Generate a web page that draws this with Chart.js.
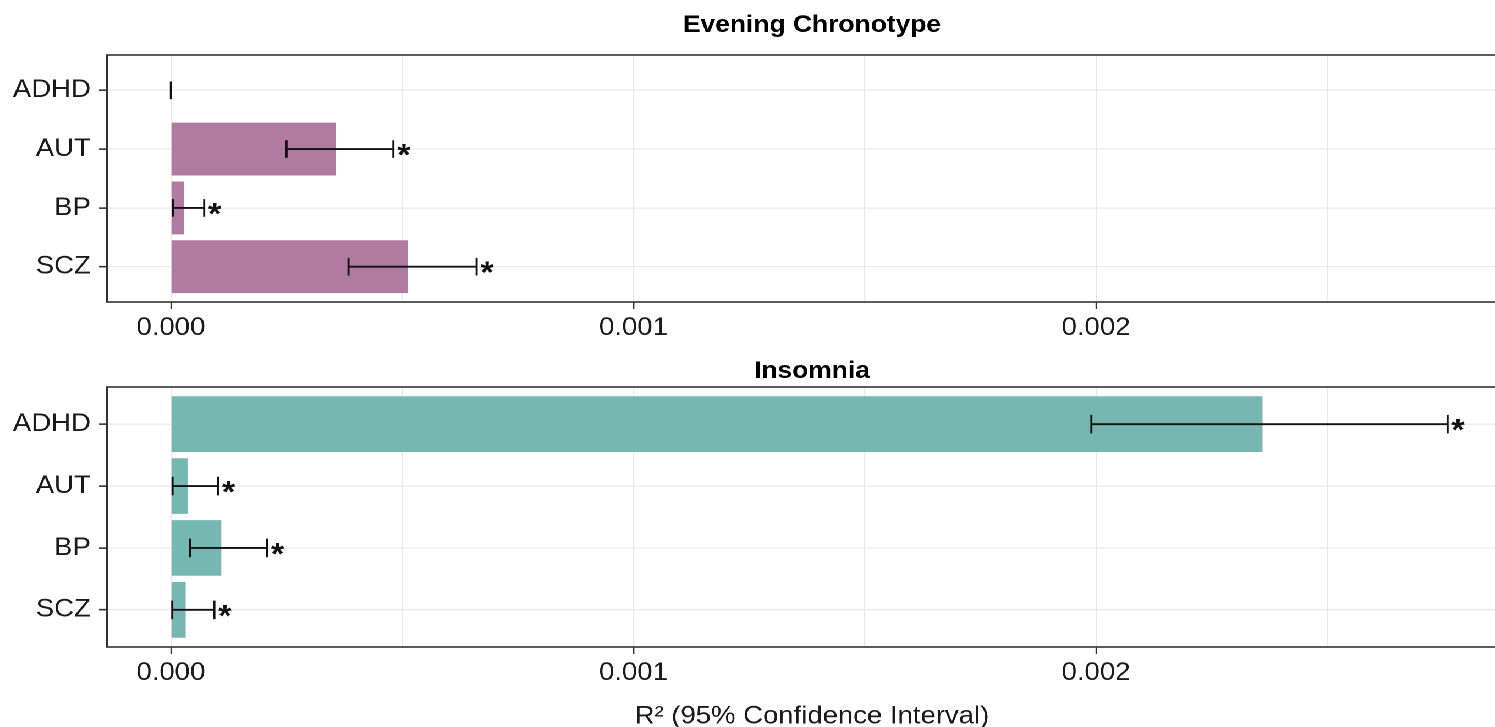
<!DOCTYPE html>
<html>
<head>
<meta charset="utf-8">
<script src="https://cdn.jsdelivr.net/npm/chart.js@4.4.1/dist/chart.umd.min.js"></script>
<style>
    html, body { margin: 0; padding: 0; width: 1495px; height: 727px; overflow: hidden; background: #fff; }
    /* the reference is a bit wider than it is tall, so stretch the drawing horizontally */
    #stage { position: absolute; left: 0; top: 0; width: 1380px; height: 727px; transform: scaleX(1.1); transform-origin: 0 0; }
    .panel { position: absolute; left: 0; width: 1380px; }
    #chronoPanel { top: 0; height: 345px; }
    #insomniaPanel { top: 345px; height: 382px; }
</style>
</head>
<body>
<div id="stage">
    <div class="panel" id="chronoPanel"><canvas id="chronoChart"></canvas></div>
    <div class="panel" id="insomniaPanel"><canvas id="insomniaChart"></canvas></div>
</div>
<script>
// Data
const categories = ['ADHD', 'AUT', 'BP', 'SCZ'];

const chronoR2 = [0, 0.000356, 0.0000288, 0.000512];
const chronoLower = [0, 0.000250, 0.000005, 0.000384];
const chronoUpper = [0, 0.000481, 0.000072, 0.000661];
const chronoSig = [false, true, true, true];

const insomniaR2 = [0.002360, 0.000036, 0.000109, 0.000032];
const insomniaLower = [0.001990, 0.0000036, 0.000041, 0.000003];
const insomniaUpper = [0.002760, 0.000102, 0.000208, 0.000094];
const insomniaSig = [true, true, true, true];

const tickValues = [0, 0.0005, 0.001, 0.0015, 0.002, 0.0025];
const tickLabels = ['0.000', '', '0.001', '', '0.002', ''];
const xMin = -0.000138;
const xMax = 0.00291;

Chart.defaults.font.family = '"Liberation Sans", Arial, sans-serif';
Chart.defaults.color = '#1a1a1a';

// Error bars with caps, plus the significance star
function errorBarPlugin(lower, upper, sig) {
    return {
        id: 'errorBars',
        afterDatasetsDraw(chart) {
            const { ctx, scales: { x, y } } = chart;
            ctx.save();
            ctx.strokeStyle = '#111';
            ctx.fillStyle = '#111';
            ctx.lineWidth = 1.9;
            ctx.font = 'bold 31px "Liberation Sans", Arial, sans-serif';
            ctx.textAlign = 'left';
            ctx.textBaseline = 'alphabetic';
            lower.forEach((lo, i) => {
                const cy = y.getPixelForValue(i);
                const x0 = x.getPixelForValue(lo);
                const x1 = x.getPixelForValue(upper[i]);
                const capTop = y.getPixelForValue(i - 0.15);
                const capBottom = y.getPixelForValue(i + 0.15);
                ctx.beginPath();
                ctx.moveTo(x0, cy);
                ctx.lineTo(x1, cy);
                ctx.moveTo(x0, capTop);
                ctx.lineTo(x0, capBottom);
                ctx.moveTo(x1, capTop);
                ctx.lineTo(x1, capBottom);
                ctx.stroke();
                if (sig[i]) {
                    ctx.fillText('*', x1 + 3.5, cy + 16);
                }
            });
            ctx.restore();
        }
    };
}

// Panel border and the bold panel title
function framePlugin(title, titleBaseline) {
    return {
        id: 'frame',
        afterDraw(chart) {
            const { ctx, chartArea } = chart;
            ctx.save();
            ctx.strokeStyle = '#333';
            ctx.lineWidth = 1.6;
            ctx.strokeRect(chartArea.left, chartArea.top, chartArea.right - chartArea.left, chartArea.bottom - chartArea.top);
            ctx.fillStyle = '#000';
            ctx.font = 'bold 24px "Liberation Sans", Arial, sans-serif';
            ctx.textAlign = 'center';
            ctx.textBaseline = 'alphabetic';
            ctx.fillText(title, (chartArea.left + chartArea.right) / 2, titleBaseline);
            ctx.restore();
        }
    };
}

// x axis title under the lower panel
const axisTitlePlugin = {
    id: 'axisTitle',
    afterDraw(chart) {
        const { ctx, chartArea } = chart;
        ctx.save();
        ctx.fillStyle = '#1a1a1a';
        ctx.font = '25px "Liberation Sans", Arial, sans-serif';
        ctx.textAlign = 'center';
        ctx.textBaseline = 'alphabetic';
        ctx.fillText('R\u00b2 (95% Confidence Interval)', (chartArea.left + chartArea.right) / 2, 378.5);
        ctx.restore();
    }
};

function buildChart(canvasId, values, color, lower, upper, sig, title, titleBaseline, padTop, xAxisHeight, extraPlugins) {
    const ctx = document.getElementById(canvasId).getContext('2d');
    return new Chart(ctx, {
        type: 'bar',
        data: {
            datasets: [{
                data: values.map((v, i) => ({ x: v, y: i })),
                backgroundColor: color,
                borderWidth: 0,
                barPercentage: 0.9,
                categoryPercentage: 1.0
            }]
        },
        options: {
            indexAxis: 'y',
            responsive: true,
            maintainAspectRatio: false,
            animation: false,
            devicePixelRatio: 2,
            layout: { padding: { top: padTop, right: 1, bottom: 0, left: 0 } },
            plugins: {
                legend: { display: false },
                tooltip: { enabled: false },
                title: { display: false }
            },
            scales: {
                x: {
                    type: 'linear',
                    min: xMin,
                    max: xMax,
                    afterBuildTicks: scale => {
                        scale.ticks = tickValues.map(v => ({ value: v }));
                    },
                    afterFit: scale => { scale.height = xAxisHeight; },
                    border: { display: false },
                    grid: {
                        color: '#e8e8e8',
                        lineWidth: 1.1,
                        tickLength: 7,
                        tickWidth: 1.3,
                        tickColor: c => tickLabels[c.index] ? '#333' : 'rgba(0,0,0,0)'
                    },
                    ticks: {
                        autoSkip: false,
                        maxRotation: 0,
                        padding: 4,
                        color: '#1a1a1a',
                        font: { size: 25 },
                        callback: (value, index) => tickLabels[index]
                    }
                },
                y: {
                    type: 'linear',
                    reverse: true,
                    offset: false,
                    min: -0.6,
                    max: 3.6,
                    afterBuildTicks: scale => {
                        scale.ticks = categories.map((c, i) => ({ value: i }));
                    },
                    afterFit: scale => { scale.width = 97.3; },
                    border: { display: false },
                    grid: {
                        offset: false,
                        color: '#e8e8e8',
                        lineWidth: 1.3,
                        tickLength: 7.3,
                        tickWidth: 1.6,
                        tickColor: '#333'
                    },
                    ticks: {
                        autoSkip: false,
                        padding: 7.5,
                        color: '#1a1a1a',
                        font: { size: 25 },
                        callback: value => categories[value]
                    }
                }
            }
        },
        plugins: [errorBarPlugin(lower, upper, sig), framePlugin(title, titleBaseline)].concat(extraPlugins)
    });
}

buildChart('chronoChart', chronoR2, '#b07aa1', chronoLower, chronoUpper, chronoSig,
    'Evening Chronotype', 32, 55, 43, []);
buildChart('insomniaChart', insomniaR2, '#76b7b2', insomniaLower, insomniaUpper, insomniaSig,
    'Insomnia', 33, 42, 80, [axisTitlePlugin]);
</script>
</body>
</html>
